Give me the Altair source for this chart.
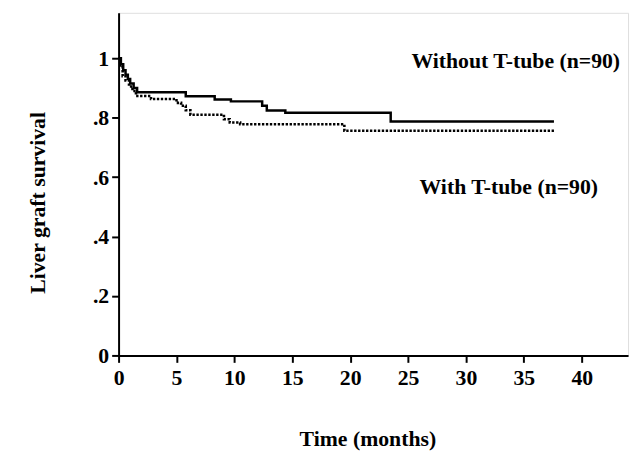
import altair as alt
import pandas as pd

# Without T-tube (solid)
solid_t = [0, 0.2, 0.4, 0.6, 0.8, 1.0, 1.3, 1.6, 5.8, 8.3, 9.7, 12.4, 12.8, 14.4, 23.5, 37.6]
solid_s = [1.0, 0.98, 0.96, 0.945, 0.93, 0.915, 0.90, 0.886, 0.872, 0.861, 0.855, 0.84, 0.824, 0.817, 0.787, 0.787]

# With T-tube (dotted)
dotted_t = [0, 0.15, 0.35, 0.6, 0.9, 1.2, 1.5, 2.8, 5.0, 5.4, 5.8, 6.2, 9.1, 9.6, 10.5, 19.5, 37.6]
dotted_s = [1.0, 0.97, 0.94, 0.925, 0.905, 0.89, 0.873, 0.863, 0.85, 0.84, 0.825, 0.81, 0.795, 0.784, 0.778, 0.756, 0.756]

labels_text = ["Without T-tube (n=90)", "With T-tube (n=90)"]
labels_t = [34.3, 33.7]
labels_s = [0.99, 0.565]

y_tick_values = [0, 0.2, 0.4, 0.6, 0.8, 1.0]
y_tick_labels = ["0", ".2", ".4", ".6", ".8", "1"]
y_minor_values = [0.1, 0.3, 0.5, 0.7, 0.9]
x_tick_values = [0, 5, 10, 15, 20, 25, 30, 35, 40]
x_minor_values = [2.5, 7.5, 12.5, 17.5, 22.5, 27.5, 32.5, 37.5, 42.5]

solid_df = pd.DataFrame({"t": solid_t, "s": solid_s, "g": "Without T-tube"})
dotted_df = pd.DataFrame({"t": dotted_t, "s": dotted_s, "g": "With T-tube"})
lab_df = pd.DataFrame({"t": labels_t, "s": labels_s, "text": labels_text})

FONT = "Liberation Serif"
FS = 22

y_label_expr = " : ".join(
    [f"abs(datum.value-{v})<0.001 ? '{l}'" for v, l in zip(y_tick_values, y_tick_labels)]
) + " : ''"

xscale = alt.Scale(domain=[0, 44], nice=False, zero=False)
yscale = alt.Scale(domain=[0, 1.153], nice=False, zero=False)

x_axis = alt.Axis(
    values=sorted(x_tick_values + x_minor_values),
    labelExpr="datum.value % 5 == 0 ? datum.label : ''",
    tickSize={"condition": {"test": "datum.value % 5 == 0", "value": 7}, "value": 4},
    grid=False, domainColor="black", domainWidth=2, tickColor="black", tickWidth=2,
    labelFont=FONT, labelFontSize=FS, labelFontWeight="bold", labelColor="black",
    labelPadding=5, labelFlush=False, labelOverlap=False,
    title="Time (months)", titleFont=FONT, titleFontSize=FS, titleFontWeight="bold",
    titleColor="black", titleX=252, titleY=84, titleBaseline="middle", titleAlign="center",
)
y_axis = alt.Axis(
    values=sorted(y_tick_values + y_minor_values),
    labelExpr=y_label_expr,
    tickSize={"condition": {"test": "round(datum.value*10) % 2 == 0", "value": 7}, "value": 4},
    grid=False, domainColor="black", domainWidth=2, tickColor="black", tickWidth=2,
    labelFont=FONT, labelFontSize=FS, labelFontWeight="bold", labelColor="black",
    labelPadding=3, labelFlush=False, labelOverlap=False,
    title="Liver graft survival", titleFont=FONT, titleFontSize=FS, titleFontWeight="bold",
    titleColor="black", titleX=-82, titleY=192, titleAngle=-90, titleBaseline="middle",
    titleAlign="center",
)

solid = alt.Chart(solid_df).mark_line(interpolate="step-after", color="black", strokeWidth=2.5).encode(
    x=alt.X("t:Q", scale=xscale, axis=x_axis),
    y=alt.Y("s:Q", scale=yscale, axis=y_axis),
)
dotted = alt.Chart(dotted_df).mark_line(
    interpolate="step-after", color="black", strokeWidth=2.6, strokeDash=[2.4, 1.6]
).encode(
    x=alt.X("t:Q", scale=xscale),
    y=alt.Y("s:Q", scale=yscale),
)
texts = alt.Chart(lab_df).mark_text(
    font=FONT, fontSize=FS, fontWeight="bold", color="black", align="center", baseline="middle"
).encode(
    x=alt.X("t:Q", scale=xscale),
    y=alt.Y("s:Q", scale=yscale),
    text="text:N",
)

chart = alt.layer(dotted, solid, texts).properties(
    width=516, height=347,
    autosize="none",
    padding={"left": 112, "top": 2, "right": 5, "bottom": 100},
).configure_view(stroke=None).configure(background="white")

chart.save("out.html", embed_options={"renderer": "svg", "actions": False})
